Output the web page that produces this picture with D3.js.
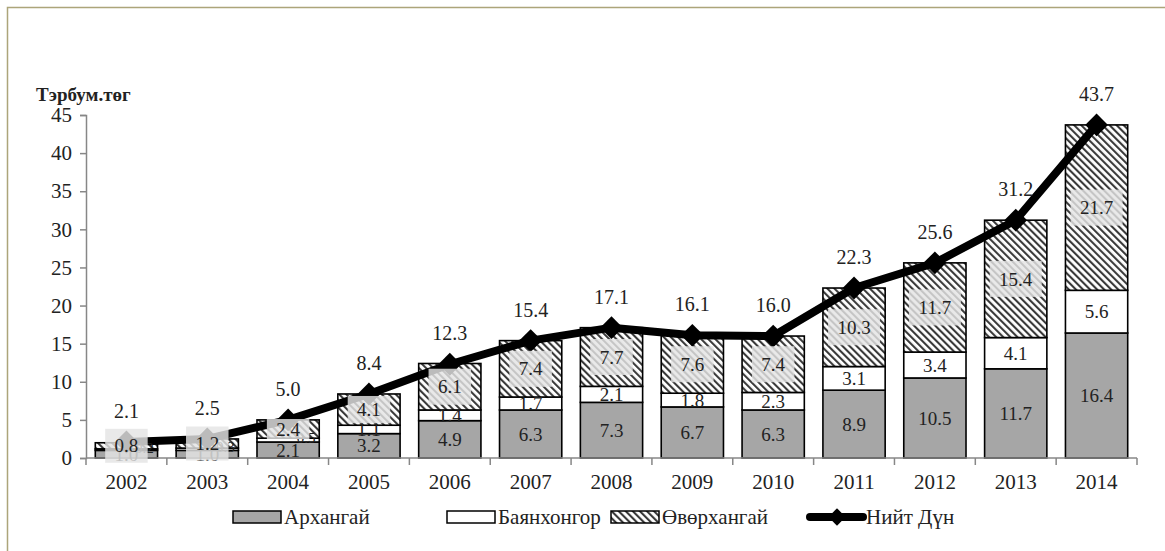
<!DOCTYPE html>
<html>
<head>
<meta charset="utf-8">
<title>Тэрбум.төг</title>
<style>
  body { margin: 0; background: #fff; }
  svg text { font-family: "Liberation Serif", "Tinos", "Times New Roman", "DejaVu Serif", serif !important; fill: #222; }
</style>
</head>
<body>
<svg width="1165" height="551"></svg>
<script src="https://d3js.org/d3.v7.min.js"></script>
<script>
// data
var years = ["2002","2003","2004","2005","2006","2007","2008","2009","2010","2011","2012","2013","2014"];
var arkhangai    = [1.0, 1.0, 2.1, 3.2, 4.9, 6.3, 7.3, 6.7, 6.3, 8.9, 10.5, 11.7, 16.4];
var bayankhongor = [0.2, 0.3, 0.5, 1.1, 1.4, 1.7, 2.1, 1.8, 2.3, 3.1, 3.4, 4.1, 5.6];
var ovorkhangai  = [0.8, 1.2, 2.4, 4.1, 6.1, 7.4, 7.7, 7.6, 7.4, 10.3, 11.7, 15.4, 21.7];
var total        = [2.1, 2.5, 5.0, 8.4, 12.3, 15.4, 17.1, 16.1, 16.0, 22.3, 25.6, 31.2, 43.7];
var yTicks = [0, 5, 10, 15, 20, 25, 30, 35, 40, 45];
var seriesNames = ["Архангай", "Баянхонгор", "Өвөрхангай", "Нийт Дүн"];

var FONT = "'Liberation Serif', 'Tinos', 'Times New Roman', 'DejaVu Serif', serif";
var keys = ["a", "b", "o"];
var rows = years.map(function (y, i) {
  return { year: y, a: arkhangai[i], b: bayankhongor[i], o: ovorkhangai[i], total: total[i] };
});

var svg = d3.select("svg").attr("font-family", FONT);

// frame
svg.append("path")
  .attr("d", "M7.5,551V7.5H1165")
  .attr("fill", "none")
  .attr("stroke", "#aca57a")
  .attr("stroke-width", 1.5);

// hatch pattern
var defs = svg.append("defs");
var pat = defs.append("pattern")
  .attr("id", "hatch")
  .attr("patternUnits", "userSpaceOnUse")
  .attr("width", 5).attr("height", 5)
  .attr("patternTransform", "rotate(-45)");
pat.append("rect").attr("width", 5).attr("height", 5).attr("fill", "#fff");
pat.append("line").attr("x1", 1).attr("y1", 0).attr("x2", 1).attr("y2", 5)
  .attr("stroke", "#3a3a3a").attr("stroke-width", 2.2);

var x = d3.scaleBand().domain(years).range([86, 1137]).paddingInner(0.23).paddingOuter(0.115);
var y = d3.scaleLinear().domain([0, 45]).range([458, 115]);

var fills = { a: "#a6a6a6", b: "#ffffff", o: "url(#hatch)" };

// axes
var yAxis = svg.append("g")
  .attr("transform", "translate(86,0)")
  .call(d3.axisLeft(y).tickValues(yTicks).tickSize(6).tickPadding(8));
yAxis.attr("font-family", FONT);
yAxis.select(".domain").attr("stroke", "#878787").attr("stroke-width", 1.5);
yAxis.selectAll(".tick line").attr("stroke", "#878787").attr("stroke-width", 1.5);
yAxis.selectAll("text").style("font-size", "21px").attr("fill", "#222");

var xAxis = svg.append("g")
  .attr("transform", "translate(0,458)")
  .call(d3.axisBottom(x).tickSize(0).tickPadding(16));
xAxis.attr("font-family", FONT);
xAxis.select(".domain").remove();
xAxis.selectAll("text").style("font-size", "21px").attr("fill", "#222");

// bars
var stacked = d3.stack().keys(keys)(rows);
svg.append("g").selectAll("g")
  .data(stacked)
  .join("g")
  .attr("fill", function (d) { return fills[d.key]; })
  .selectAll("rect")
  .data(function (d) { return d; })
  .join("rect")
  .attr("x", function (d) { return x(d.data.year); })
  .attr("width", x.bandwidth())
  .attr("y", function (d) { return y(d[1]); })
  .attr("height", function (d) { return y(d[0]) - y(d[1]); })
  .attr("stroke", "#000")
  .attr("stroke-width", 1.6);

// x axis line and ticks between categories
svg.append("line")
  .attr("x1", x.range()[0]).attr("x2", x.range()[1])
  .attr("y1", 458).attr("y2", 458)
  .attr("stroke", "#878787").attr("stroke-width", 1.5);
svg.append("g").selectAll("line")
  .data(d3.range(years.length + 1))
  .join("line")
  .attr("x1", function (i) { return x.range()[0] + i * x.step(); })
  .attr("x2", function (i) { return x.range()[0] + i * x.step(); })
  .attr("y1", 458).attr("y2", 465)
  .attr("stroke", "#878787").attr("stroke-width", 1.5);

// total line
var line = d3.line()
  .x(function (d) { return x(d.year) + x.bandwidth() / 2; })
  .y(function (d) { return y(d.total); });
svg.append("path")
  .datum(rows)
  .attr("d", line)
  .attr("fill", "none")
  .attr("stroke", "#000")
  .attr("stroke-width", 8)
  .attr("stroke-linejoin", "round");

var diamond = d3.symbol().type(d3.symbolSquare).size(260);
svg.append("g").selectAll("path")
  .data(rows)
  .join("path")
  .attr("d", diamond)
  .attr("transform", function (d) {
    return "translate(" + (x(d.year) + x.bandwidth() / 2) + "," + y(d.total) + ") rotate(45)";
  })
  .attr("fill", "#000");

// segment labels (drawn over the line, as in the original)
stacked.forEach(function (s) {
  var g = svg.append("g");
  s.forEach(function (d) {
    var cx = x(d.data.year) + x.bandwidth() / 2;
    var cy = (y(d[0]) + y(d[1])) / 2;
    var v = d.data[s.key];
    var txt = v.toFixed(1);
    var segH = y(d[0]) - y(d[1]);
    var fs = 19;
    if (s.key === "b" && segH < 6) {
      fs = 15;
      cx += 18;
      cy -= 2;
    }
    if (s.key === "o") {
      var bh = segH < 10 ? 34 : Math.max(20, Math.min(36, segH - 4));
      var bw = txt.length * 9.5 + 14;
      g.append("rect")
        .attr("x", cx - bw / 2).attr("y", cy - bh / 2)
        .attr("width", bw).attr("height", bh)
        .attr("fill", "#e4e4e4").attr("opacity", 0.82);
    }
    g.append("text")
      .attr("x", cx).attr("y", cy).attr("dy", "0.35em")
      .attr("text-anchor", "middle")
      .style("font-size", fs + "px")
      .text(txt);
  });
});

svg.append("g").selectAll("text")
  .data(rows)
  .join("text")
  .attr("x", function (d) { return x(d.year) + x.bandwidth() / 2; })
  .attr("y", function (d) { return y(d.total) - 31; })
  .attr("dy", "0.35em")
  .attr("text-anchor", "middle")
  .style("font-size", "20px")
  .text(function (d) { return d.total.toFixed(1); });

// y title
svg.append("text")
  .attr("x", 36).attr("y", 101)
  .style("font-size", "19px")
  .style("font-weight", "bold")
  .text("Тэрбум.төг");

// legend
var legendX = [233, 447, 611, 810];
var leg = svg.append("g");
[0, 1, 2].forEach(function (i) {
  leg.append("rect")
    .attr("x", legendX[i]).attr("y", 511)
    .attr("width", 48).attr("height", 12)
    .attr("fill", fills[keys[i]])
    .attr("stroke", "#000").attr("stroke-width", 1.5);
  leg.append("text")
    .attr("x", legendX[i] + 51).attr("y", 517).attr("dy", "0.35em")
    .style("font-size", "21px")
    .text(seriesNames[i]);
});
leg.append("line")
  .attr("x1", legendX[3]).attr("x2", legendX[3] + 53)
  .attr("y1", 517).attr("y2", 517)
  .attr("stroke", "#000").attr("stroke-width", 8).attr("stroke-linecap", "round");
leg.append("path")
  .attr("d", d3.symbol().type(d3.symbolSquare).size(150))
  .attr("transform", "translate(" + (legendX[3] + 27) + ",517) rotate(45)")
  .attr("fill", "#000");
leg.append("text")
  .attr("x", legendX[3] + 56).attr("y", 517).attr("dy", "0.35em")
  .style("font-size", "21px")
  .text(seriesNames[3]);
</script>
</body>
</html>
